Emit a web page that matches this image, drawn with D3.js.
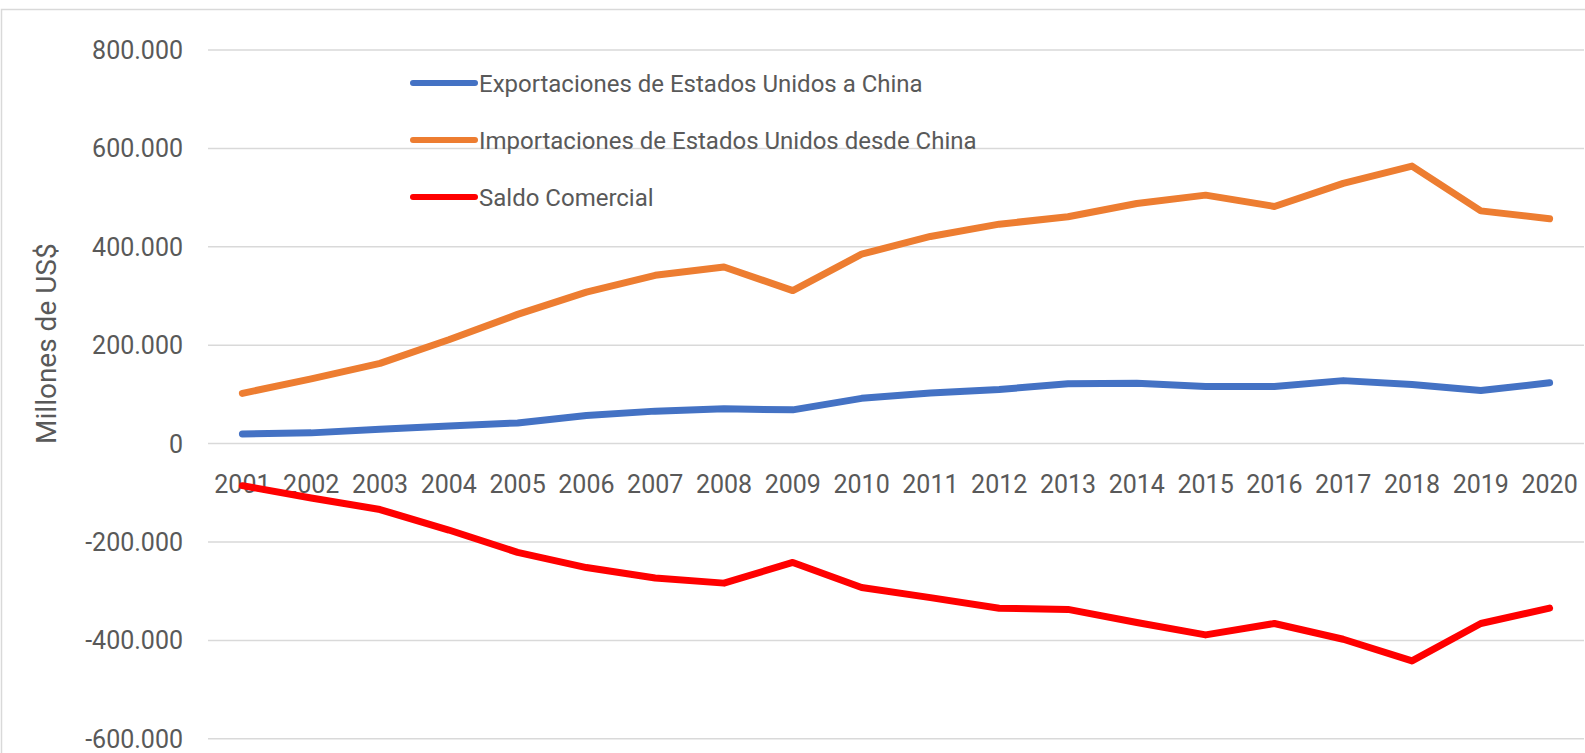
<!DOCTYPE html>
<html>
<head>
<meta charset="utf-8">
<script src="https://cdn.jsdelivr.net/npm/d3@7"></script>
<style>
  body { margin: 0; background: #fff; }
  text { font-family: Roboto, "Liberation Sans", sans-serif; fill: #595959; }
</style>
</head>
<body>
<script>
// millones de US$
const years = ['2001', '2002', '2003', '2004', '2005', '2006', '2007', '2008', '2009', '2010',
  '2011', '2012', '2013', '2014', '2015', '2016', '2017', '2018', '2019', '2020']
const exportaciones = [19700, 21800, 29000, 36000, 42000, 57000, 66000, 70600, 68600, 92000,
  103000, 110000, 121500, 122800, 116000, 116000, 128000, 120000, 108000, 123500]
const importaciones = [102000, 131700, 163000, 211000, 262600, 308000, 342000, 359000, 311000, 385000,
  421000, 446000, 461000, 488000, 505000, 482000, 529000, 564000, 473000, 457000]
const saldo = [-85500, -110500, -134000, -175700, -221000, -252000, -273000, -283600, -241600, -292500,
  -313000, -334500, -337000, -363700, -388800, -365700, -397600, -441700, -365700, -334500]
const yTicks = [-600000, -400000, -200000, 0, 200000, 400000, 600000, 800000]

const series = [
  { name: 'Exportaciones de Estados Unidos a China', values: exportaciones, color: '#4472C4' },
  { name: 'Importaciones de Estados Unidos desde China', values: importaciones, color: '#ED7D31' },
  { name: 'Saldo Comercial', values: saldo, color: '#FF0000' }
]

const width = 1585
const height = 753
const left = 208
const right = 1584

const svg = d3.select('body')
  .append('svg')
  .attr('width', width)
  .attr('height', height)

// marco del gráfico
svg.append('rect')
  .attr('x', 1.5)
  .attr('y', 9.5)
  .attr('width', width + 10)
  .attr('height', height + 10)
  .attr('fill', 'none')
  .attr('stroke', '#d9d9d9')
  .attr('stroke-width', 1.5)

const x = d3.scalePoint()
  .domain(years)
  .range([left, right])
  .padding(0.5)

const y = d3.scaleLinear()
  .domain([-600000, 800000])
  .range([738.8, 50])

const fmt = d3.formatLocale({ decimal: ',', thousands: '.', grouping: [3], currency: ['', ''], minus: '-' }).format(',d')

// rejilla
svg.append('g')
  .selectAll('line')
  .data(yTicks)
  .enter()
  .append('line')
  .attr('x1', left)
  .attr('x2', right)
  .attr('y1', d => y(d))
  .attr('y2', d => y(d))
  .attr('stroke', '#d9d9d9')
  .attr('stroke-width', 1.5)

// etiquetas eje y
svg.append('g')
  .selectAll('text')
  .data(yTicks)
  .enter()
  .append('text')
  .attr('x', 183)
  .attr('y', d => y(d))
  .attr('dy', '0.36em')
  .attr('text-anchor', 'end')
  .style('font-size', '25px')
  .text(d => fmt(d))

// etiquetas eje x
svg.append('g')
  .selectAll('text')
  .data(years)
  .enter()
  .append('text')
  .attr('x', d => x(d))
  .attr('y', y(0) + 40)
  .attr('dy', '0.36em')
  .attr('text-anchor', 'middle')
  .style('font-size', '25px')
  .text(d => d)

svg.append('text')
  .attr('transform', `translate(56, ${y(0) - 100})rotate(-90)`)
  .attr('text-anchor', 'middle')
  .style('font-size', '28px')
  .text('Millones de US$')

const line = d3.line()
  .x((d, i) => x(years[i]))
  .y(d => y(d))

svg.append('g')
  .selectAll('path')
  .data(series)
  .enter()
  .append('path')
  .attr('d', d => line(d.values))
  .attr('fill', 'none')
  .attr('stroke', d => d.color)
  .attr('stroke-width', 7)
  .attr('stroke-linejoin', 'round')
  .attr('stroke-linecap', 'round')

// leyenda
const legend = svg.append('g')
  .selectAll('g')
  .data(series)
  .enter()
  .append('g')
  .attr('transform', (d, i) => `translate(413, ${83 + i * 57})`)

legend.append('line')
  .attr('x1', 0)
  .attr('x2', 62)
  .attr('stroke', d => d.color)
  .attr('stroke-width', 6)
  .attr('stroke-linecap', 'round')

legend.append('text')
  .attr('x', 66)
  .attr('dy', '0.36em')
  .style('font-size', '24px')
  .text(d => d.name)
</script>
</body>
</html>
